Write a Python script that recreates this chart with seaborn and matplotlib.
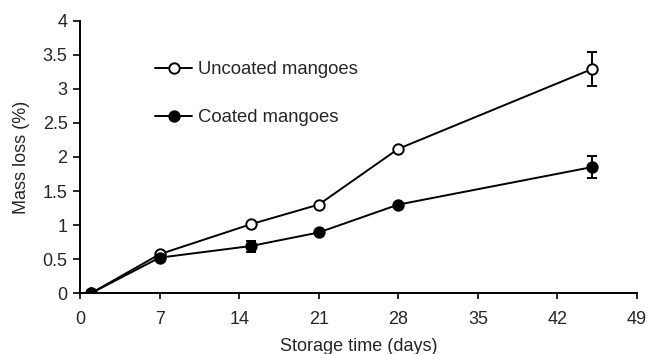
import matplotlib
matplotlib.use("Agg")
import matplotlib.pyplot as plt
import seaborn as sns
import pandas as pd
import numpy as np

days = [1, 7, 15, 21, 28, 45]
uncoated = [0.0, 0.57, 1.01, 1.30, 2.12, 3.29]
uncoated_err = [0.0, 0.0, 0.0, 0.0, 0.0, 0.25]
coated = [0.0, 0.52, 0.69, 0.89, 1.30, 1.85]
coated_err = [0.0, 0.0, 0.08, 0.0, 0.0, 0.16]
series = ["Uncoated mangoes", "Coated mangoes"]
x_ticks = [0, 7, 14, 21, 28, 35, 42, 49]
y_ticks = [0, 0.5, 1, 1.5, 2, 2.5, 3, 3.5, 4]
y_tick_labels = ["0", "0.5", "1", "1.5", "2", "2.5", "3", "3.5", "4"]

sns.set_style("ticks")
plt.rcParams['font.family'] = ['Liberation Sans', 'DejaVu Sans']

df = pd.DataFrame({
    "day": days * 2,
    "loss": uncoated + coated,
    "err": uncoated_err + coated_err,
    "group": [series[0]] * len(days) + [series[1]] * len(days),
})

fig = plt.figure(figsize=(6.48, 3.54), dpi=100)
ax = fig.add_axes([0.1235, 0.1723, 0.8595, 0.7684])

face = {series[0]: "white", series[1]: "black"}
for g in series:
    sub = df[df["group"] == g]
    ax.errorbar(sub["day"], sub["loss"], yerr=sub["err"], fmt="none",
                ecolor="black", elinewidth=1.4, capsize=3.6, capthick=1.4, zorder=2)
    sns.lineplot(data=sub, x="day", y="loss", ax=ax, color="black", lw=1.4,
                 marker="o", markersize=7.5, markerfacecolor=face[g],
                 markeredgecolor="black", markeredgewidth=1.4, label=g, zorder=3)

ax.set_xlim(0, 49)
ax.set_ylim(0, 4)
ax.set_xticks(x_ticks)
ax.set_yticks(y_ticks)
ax.set_yticklabels(y_tick_labels)
ax.tick_params(axis="x", direction="out", length=4, width=1.4, labelsize=13, pad=9)
ax.tick_params(axis="y", direction="out", length=5, width=1.4, labelsize=13, pad=4)
for s in ["top", "right"]:
    ax.spines[s].set_visible(False)
for s in ["left", "bottom"]:
    ax.spines[s].set_linewidth(1.4)
    ax.spines[s].set_color("black")
ax.set_xlabel("Storage time (days)", fontsize=13, labelpad=7)
ax.set_ylabel("Mass loss (%)", fontsize=13, labelpad=9)

leg = ax.legend(loc="upper left", bbox_to_anchor=(0.135, 0.852), frameon=False,
                fontsize=13.3, handlelength=2.0, handletextpad=0.3, labelspacing=1.67,
                borderpad=0, borderaxespad=0)

fig.savefig("out.png", dpi=100)
